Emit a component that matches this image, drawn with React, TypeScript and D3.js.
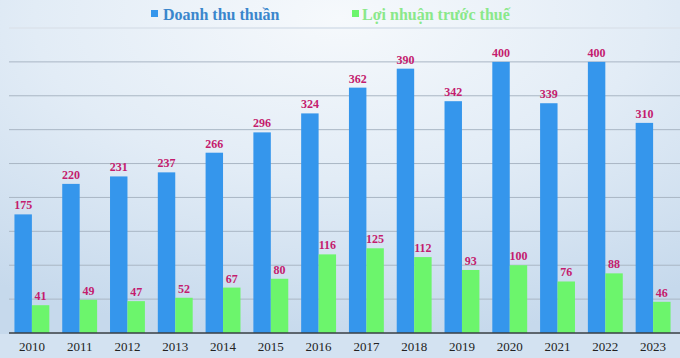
import React from "react";
import * as d3 from "d3";

const years = ["2010","2011","2012","2013","2014","2015","2016","2017","2018","2019","2020","2021","2022","2023"];
const revenue = [175,220,231,237,266,296,324,362,390,342,400,339,400,310];
const profit = [41,49,47,52,67,80,116,125,112,93,100,76,88,46];
const seriesNames = ["Doanh thu thuần", "Lợi nhuận trước thuế"];
const gridTicks = [0,50,100,150,200,250,300,350,400,450];

const W = 680, H = 358;
const BLUE = "#3596ec";
const GREEN = "#6cf56c";
const LABEL = "#c41c6e";
const FONT = "'Liberation Serif', 'DejaVu Serif', serif";

export default function App() {
  const x = d3.scaleBand<string>().domain(years).range([8, 677]).paddingInner(0.27).paddingOuter(0.135);
  const sub = d3.scaleBand<string>().domain(["r","p"]).range([0, x.bandwidth()]).padding(0);
  const y = d3.scaleLinear().domain([0, 450]).range([333, 28]);
  const bw = sub.bandwidth();

  return (
    <svg width={W} height={H} style={{ position: "absolute", left: 0, top: 0, display: "block" }}>
      <defs>
        <radialGradient id="bg" cx="0.5" cy="0.05" r="0.9">
          <stop offset="0" stopColor="#f6f9fc" />
          <stop offset="0.5" stopColor="#e2ecf6" />
          <stop offset="1" stopColor="#c6d9ec" />
        </radialGradient>
      </defs>
      <rect x={0} y={0} width={W} height={H} fill="url(#bg)" />
      <rect x={0} y={334} width={W} height={H - 334} fill="#d3e2f1" />
      {gridTicks.filter(t => t > 0).map(t => (
        <line key={t} x1={9} x2={680} y1={y(t)} y2={y(t)} stroke={t === 450 ? "#dde5ee" : "#a9b6c4"} strokeWidth={t === 450 ? 2 : 1} />
      ))}
      {years.map((yr, i) => {
        const x0 = x(yr)!;
        const rx = x0 + sub("r")!;
        const px = x0 + sub("p")!;
        return (
          <g key={yr}>
            <rect x={rx} y={y(revenue[i])} width={bw} height={y(0) - y(revenue[i])} fill={BLUE} />
            <rect x={px} y={y(profit[i])} width={bw} height={y(0) - y(profit[i])} fill={GREEN} />
            <text x={rx + bw / 2} y={y(revenue[i]) - 5} textAnchor="middle" fontFamily={FONT} fontWeight="bold" fontSize={12} fill={LABEL}>{revenue[i]}</text>
            <text x={px + bw / 2} y={y(profit[i]) - 5} textAnchor="middle" fontFamily={FONT} fontWeight="bold" fontSize={12} fill={LABEL}>{profit[i]}</text>
            <text x={x0 + x.bandwidth() / 2} y={351} textAnchor="middle" fontFamily={FONT} fontSize={13} fill="#222">{yr}</text>
          </g>
        );
      })}
      <line x1={9} x2={680} y1={y(0)} y2={y(0)} stroke="#3a3f45" strokeWidth={1.5} />
      <g fontFamily={FONT} fontWeight="bold" fontSize={16}>
        <rect x={151} y={10} width={7} height={7} fill={BLUE} />
        <text x={163} y={20} fill="#3a86cc">{seriesNames[0]}</text>
        <rect x={352} y={10} width={7} height={7} fill={GREEN} />
        <text x={362} y={20} fill="#8ae88a">{seriesNames[1]}</text>
      </g>
    </svg>
  );
}
